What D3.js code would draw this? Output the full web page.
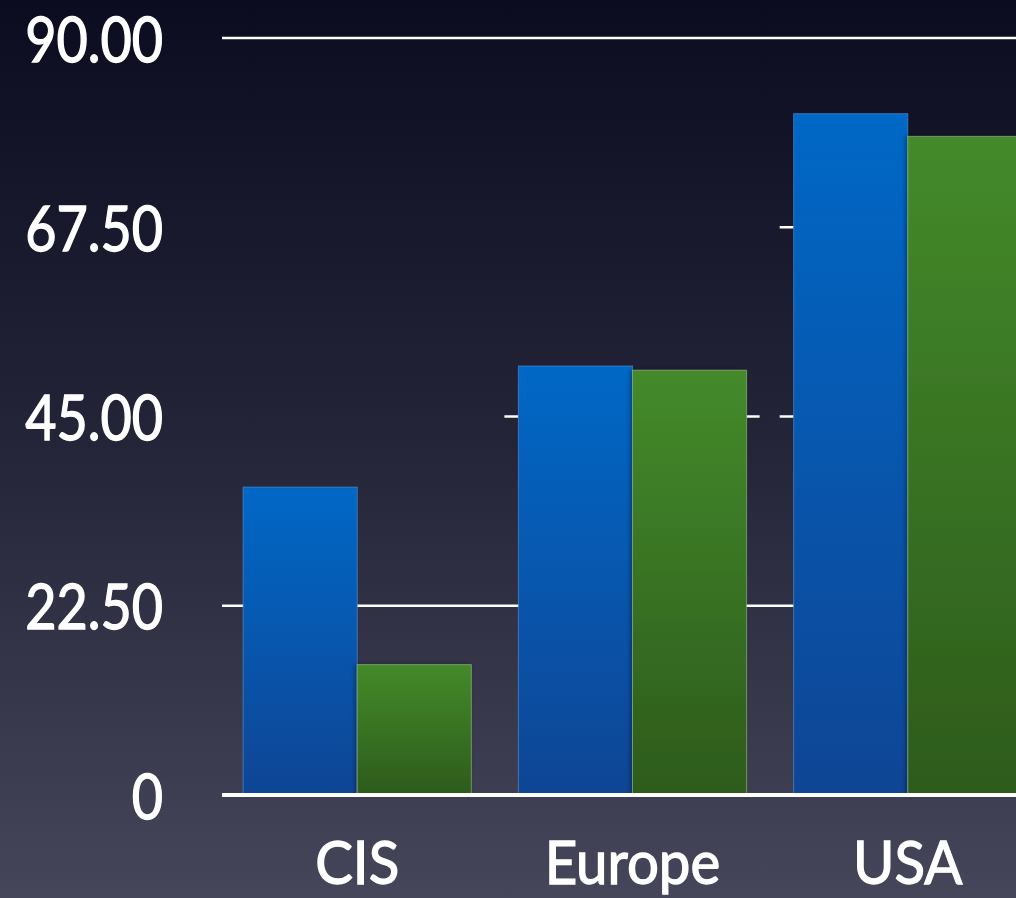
<!DOCTYPE html>
<html lang="en">
<head>
  <meta charset="UTF-8">
  <title>Chart</title>
  <style>
    body, html {
      margin: 0;
      padding: 0;
      background-color: #1d1e31;
      overflow: hidden;
    }
    text {
      font-family: Lato, "Open Sans", sans-serif;
      fill: #ffffff;
    }
  </style>
</head>
<body>
  <svg id="svg" width="1016" height="898"></svg>
  <script src="https://d3js.org/d3.v7.min.js"></script>
  <script>
    const categories = ['CIS', 'Europe', 'USA']
    const blueValues = [36.6, 51.0, 81.0]
    const greenValues = [15.5, 50.5, 78.3]
    const yTicks = [0, 22.5, 45, 67.5, 90]
    const yTickLabels = ['0', '22.50', '45.00', '67.50', '90.00']
    const fullGridTicks = [22.5, 90]
    const stubGridTicks = [45, 67.5]

    const width = 1016
    const height = 898
    const svg = d3.select('#svg')

    const defs = svg.append('defs')
    const bg = defs.append('linearGradient').attr('id', 'bg')
      .attr('x1', 0).attr('y1', 0).attr('x2', 0).attr('y2', 1)
    bg.append('stop').attr('offset', '0%').attr('stop-color', '#0b0c1f')
    bg.append('stop').attr('offset', '50%').attr('stop-color', '#242539')
    bg.append('stop').attr('offset', '100%').attr('stop-color', '#46465b')

    const blueGrad = defs.append('linearGradient').attr('id', 'blueGrad')
      .attr('x1', 0).attr('y1', 0).attr('x2', 0).attr('y2', 1)
    blueGrad.append('stop').attr('offset', '0%').attr('stop-color', '#0068c6')
    blueGrad.append('stop').attr('offset', '100%').attr('stop-color', '#0f4595')

    const greenGrad = defs.append('linearGradient').attr('id', 'greenGrad')
      .attr('x1', 0).attr('y1', 0).attr('x2', 0).attr('y2', 1)
    greenGrad.append('stop').attr('offset', '0%').attr('stop-color', '#448a2a')
    greenGrad.append('stop').attr('offset', '100%').attr('stop-color', '#2d5b1c')

    const shadow = defs.append('filter').attr('id', 'shadow')
      .attr('x', '-10%').attr('y', '-10%').attr('width', '120%').attr('height', '120%')
    shadow.append('feDropShadow')
      .attr('dx', -2).attr('dy', 0).attr('stdDeviation', 2)
      .attr('flood-color', '#000').attr('flood-opacity', 0.35)

    svg.append('rect')
      .attr('width', width).attr('height', height)
      .attr('fill', 'url(#bg)')

    const xScale = d3.scaleBand()
      .domain(categories)
      .range([220, 1045])
      .paddingInner(0.171)
      .paddingOuter(0.084)
    const xSub = d3.scaleBand()
      .domain(['blue', 'green'])
      .range([0, xScale.bandwidth()])
    const yScale = d3.scaleLinear()
      .domain([0, 90])
      .range([795, 38])

    // gridlines behind the bars
    svg.append('g')
      .selectAll('line')
      .data(fullGridTicks)
      .enter()
      .append('line')
      .attr('x1', 222).attr('x2', width)
      .attr('y1', d => yScale(d)).attr('y2', d => yScale(d))
      .attr('stroke', '#ffffff')
      .attr('stroke-width', 2.5)

    // the faint gridlines only show as short stubs next to tall bars
    const stubs = []
    stubGridTicks.forEach(t => {
      categories.forEach((c, i) => {
        if (blueValues[i] > t) stubs.push({ t, x1: xScale(c) - 14, x2: xScale(c) })
        if (greenValues[i] > t) stubs.push({ t, x1: xScale(c) + xScale.bandwidth(), x2: xScale(c) + xScale.bandwidth() + 13 })
      })
    })
    svg.append('g')
      .selectAll('line')
      .data(stubs)
      .enter()
      .append('line')
      .attr('x1', d => d.x1).attr('x2', d => d.x2)
      .attr('y1', d => yScale(d.t)).attr('y2', d => yScale(d.t))
      .attr('stroke', '#ffffff')
      .attr('stroke-width', 2.5)

    const rows = categories.map((c, i) => ({ c, blue: blueValues[i], green: greenValues[i] }))
    const groups = svg.append('g')
      .selectAll('g')
      .data(rows)
      .enter()
      .append('g')
      .attr('transform', d => `translate(${xScale(d.c)}, 0)`)

    groups.append('rect')
      .attr('x', xSub('blue'))
      .attr('y', d => yScale(d.blue))
      .attr('width', xSub.bandwidth())
      .attr('height', d => yScale(0) - yScale(d.blue))
      .attr('fill', 'url(#blueGrad)')
      .attr('stroke', '#4f8ad0')
      .attr('stroke-opacity', 0.7)
      .attr('stroke-width', 1)

    groups.append('rect')
      .attr('x', xSub('green'))
      .attr('y', d => yScale(d.green))
      .attr('width', xSub.bandwidth())
      .attr('height', d => yScale(0) - yScale(d.green))
      .attr('fill', 'url(#greenGrad)')
      .attr('stroke', '#9cbc88')
      .attr('stroke-opacity', 0.6)
      .attr('stroke-width', 1)
      .attr('filter', 'url(#shadow)')

    // zero line
    svg.append('line')
      .attr('x1', 222).attr('x2', width)
      .attr('y1', yScale(0)).attr('y2', yScale(0))
      .attr('stroke', '#ffffff')
      .attr('stroke-width', 4)

    const leftAxis = d3.axisLeft(yScale)
      .tickValues(yTicks)
      .tickFormat((d, i) => yTickLabels[i])
      .tickSize(0)
      .tickPadding(0)
    const yAxis = svg.append('g')
      .attr('transform', 'translate(163, 0)')
      .call(leftAxis)
    yAxis.select('.domain').remove()
    yAxis.selectAll('text')
      .attr('dy', null)
      .attr('y', 23)
      .attr('x', 0)
      .style('font-family', 'Lato, sans-serif')
      .style('font-size', '62px')
      .style('fill', '#ffffff')
      .style('stroke', '#ffffff')
      .style('stroke-width', '1.3px')
      .attr('transform', 'scale(0.87, 1)')

    const bottomAxis = d3.axisBottom(xScale)
      .tickSize(0)
      .tickPadding(0)
    const xAxis = svg.append('g')
      .attr('transform', `translate(0, ${yScale(0)})`)
      .call(bottomAxis)
    xAxis.select('.domain').remove()
    xAxis.selectAll('text')
      .attr('dy', null)
      .attr('y', 89)
      .style('font-family', 'Lato, sans-serif')
      .style('font-size', '60px')
      .style('fill', '#ffffff')
      .style('stroke', '#ffffff')
      .style('stroke-width', '1.3px')
      .attr('transform', 'scale(0.94, 1)')
  </script>
</body>
</html>
